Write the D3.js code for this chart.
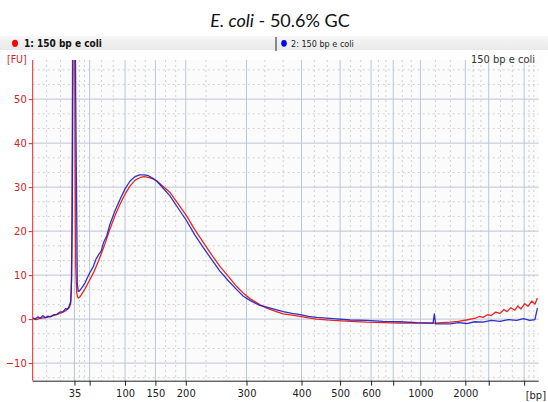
<!DOCTYPE html>
<html><head><meta charset="utf-8">
<script src="https://cdn.jsdelivr.net/npm/d3@7"></script>
<style>
body{margin:0;background:#fff;}
svg{display:block;}
</style></head>
<body>
<svg id="chart" width="548" height="402"></svg>
<script>
// ---- data ----
const title = ["E. coli", " - 50.6% GC"];
const sampleNames = ["1: 150 bp e coli", "2: 150 bp e coli"];
const panelLabel = "150 bp e coli";
// x axis: migration time (s) of ladder ticks and their bp labels ("" = unlabeled)
const tickTimes  = [41.6, 44.0, 49.6, 54.4, 59.2, 68.8, 77.5, 83.6, 88.5, 92.0, 96.3, 103.4, 107.1, 112.7];
const tickLabels = ["35", "", "100", "150", "200", "300", "400", "500", "600", "", "1000", "2000", "", ""];
const xDomain = [35, 115];
const yDomain = [-14, 58.9];
const yTicks = [-10, 0, 10, 20, 30, 40, 50];
// series: [time (s), fluorescence (FU)]
const sample1 = [
 [35.05,0.1],[35.6,-0.1],[36.2,0.2],[36.7,0.3],[37.3,0.4],[37.8,0.6],[38.3,0.8],[38.8,1.0],[39.3,1.3],[39.8,1.6],
 [40.3,2.0],[40.7,2.5],[41.0,3.4],[41.1,6],[41.2,20],[41.3,60],[41.4,95],[41.5,100],[41.6,80],[41.7,40],[41.8,12],
 [41.95,6.0],[42.1,5.0],[42.25,4.8],[42.5,5.1],[42.9,6.0],[43.3,7.0],[43.9,8.6],[44.6,10.5],[45.4,13.2],[46.2,16.2],
 [47.2,20.4],[48.0,23.5],[48.8,26.1],[49.6,28.4],[50.4,30.3],[51.2,31.6],[52.0,32.2],[52.6,32.4],[53.3,32.2],
 [54.0,31.9],[54.6,31.4],[55.6,30.2],[56.7,28.8],[58.0,26.2],[59.35,23.4],[60.6,20.4],[62.0,17.4],[63.3,14.6],
 [64.6,12.0],[66.0,9.6],[67.25,7.4],[68.3,5.9],[69.4,4.6],[70.9,3.3],[72.0,2.5],[73.3,1.8],[74.6,1.2],[76.0,0.9],
 [77.3,0.6],[78.6,0.3],[79.9,0.0],[82.5,-0.3],[85.2,-0.5],[87.8,-0.7],[90.4,-0.8],[93.0,-0.9],[95.7,-0.9],
 [98.5,-0.9],[101.0,-0.7],[102.3,-0.5],[103.6,-0.2],[105.0,0.2],[105.6,0.6],[106.2,0.4],[106.9,1.0],[107.5,0.8],
 [108.2,1.6],[108.9,1.3],[109.5,2.2],[110.0,1.7],[110.6,2.6],[111.2,2.0],[111.7,3.0],[112.2,2.3],[112.8,3.5],
 [113.3,2.9],[113.9,4.1],[114.4,3.4],[114.8,4.8]
];
const sample2 = [
 [35.05,0.3],[35.4,0.0],[35.8,0.5],[36.2,0.2],[36.6,0.8],[37.0,0.3],[37.4,0.7],[37.8,0.5],[38.3,1.0],[38.8,1.1],
 [39.3,1.6],[39.8,1.7],[40.2,2.4],[40.5,2.2],[40.8,3.0],[41.0,4.0],[41.15,9],[41.26,25],[41.4,70],[41.55,100],
 [41.7,75],[41.8,50],[41.95,26],[42.05,8],[42.2,6.3],[42.4,6.4],[42.7,7.0],[43.0,7.6],[43.3,8.3],[43.9,10.2],
 [44.6,12.0],[45.0,13.6],[45.4,14.6],[45.8,15.4],[46.2,17.4],[46.7,18.9],[47.2,21.5],[48.0,24.6],[48.8,27.2],
 [49.6,29.6],[50.4,31.4],[51.2,32.4],[51.9,32.8],[52.6,32.8],[53.3,32.6],[54.0,32.0],[54.6,31.4],[55.6,29.8],
 [56.7,28.0],[58.0,25.2],[59.35,22.3],[60.6,19.2],[62.0,16.2],[63.3,13.5],[64.6,10.9],[66.0,8.6],[67.25,6.7],
 [68.3,5.2],[69.4,4.2],[70.9,3.1],[72.0,2.7],[73.3,2.2],[74.6,1.7],[76.0,1.3],[77.3,1.0],[78.6,0.6],[79.9,0.4],
 [82.5,0.1],[85.2,-0.2],[87.8,-0.3],[90.4,-0.5],[93.0,-0.6],[95.7,-0.8],[98.3,-0.9],[98.5,1.2],[98.7,-1.1],
 [101.0,-1.1],[102.3,-0.8],[103.6,-1.0],[104.9,-0.6],[106.2,-0.7],[107.5,-0.3],[108.9,-0.5],[110.2,-0.1],
 [111.5,-0.3],[112.6,0.1],[113.6,-0.3],[114.4,-0.1],[114.8,2.5]
];
const colors = ["#e8261f", "#1c1cc4"];

// ---- layout ----
const svg = d3.select("#chart");
const L = 32.7, R = 538.7, T = 60, B = 380.7;
const x = d3.scaleLinear().domain(xDomain).range([L, R]);
const y = d3.scaleLinear().domain(yDomain).range([B, T]);
const tickFont = "'DejaVu Sans Condensed', 'Liberation Sans Narrow', 'Liberation Sans', sans-serif";

// title
const tt = svg.append("text").attr("x", 280).attr("y", 27).attr("text-anchor", "middle")
  .attr("font-family", "Lato, sans-serif").attr("font-size", 18).attr("fill", "#111");
tt.append("tspan").attr("font-style", "italic").text(title[0]);
tt.append("tspan").text(title[1]);

// header bar
const hdr = svg.append("g");
const grad = svg.append("defs").append("linearGradient").attr("id", "hg").attr("x1", 0).attr("x2", 0).attr("y1", 0).attr("y2", 1);
grad.append("stop").attr("offset", 0).attr("stop-color", "#f6f6f6");
grad.append("stop").attr("offset", 1).attr("stop-color", "#e9e9e9");
hdr.append("rect").attr("x", 0).attr("y", 36).attr("width", 548).attr("height", 14).attr("fill", "url(#hg)");
hdr.append("line").attr("x1", 276).attr("x2", 276).attr("y1", 37).attr("y2", 51).attr("stroke", "#222").attr("stroke-width", 1);
hdr.append("ellipse").attr("cx", 15).attr("cy", 43.3).attr("rx", 3).attr("ry", 3.6).attr("fill", "#ff0000");
hdr.append("text").attr("x", 24).attr("y", 47).attr("font-family", tickFont).attr("font-size", 10)
  .attr("font-weight", "bold").attr("fill", "#111").text(sampleNames[0]);
hdr.append("ellipse").attr("cx", 284).attr("cy", 43.3).attr("rx", 2.8).attr("ry", 3.4).attr("fill", "#0000ee");
hdr.append("text").attr("x", 291).attr("y", 47).attr("font-family", tickFont).attr("font-size", 9)
  .attr("fill", "#222").text(sampleNames[1]);

// plot background
svg.append("rect").attr("x", L).attr("y", T).attr("width", R - L).attr("height", B - T).attr("fill", "#fbfbfb");

// minor grid
const grid = svg.append("g");
const xBreaks = [xDomain[0], ...tickTimes, xDomain[1]];
const xMinor = [];
for (let i = 0; i < xBreaks.length - 1; i++) {
  const a = xBreaks[i], b = xBreaks[i + 1];
  xMinor.push(a + (b - a) / 3, a + 2 * (b - a) / 3);
}
const yMinor = [];
for (let v = -20; v < 60; v += 10) { yMinor.push(v + 10 / 3, v + 20 / 3); }
grid.selectAll(".xm").data(xMinor).join("line")
  .attr("x1", d => x(d)).attr("x2", d => x(d)).attr("y1", T).attr("y2", B)
  .attr("stroke", "#c8c8c8").attr("stroke-width", 0.8).attr("stroke-dasharray", "2,3");
grid.selectAll(".ym").data(yMinor.filter(v => v > yDomain[0] && v < yDomain[1])).join("line")
  .attr("x1", L).attr("x2", R).attr("y1", d => y(d)).attr("y2", d => y(d))
  .attr("stroke", "#c8c8c8").attr("stroke-width", 0.8).attr("stroke-dasharray", "2,3");
// major grid
grid.selectAll(".xM").data(tickTimes).join("line")
  .attr("x1", d => x(d)).attr("x2", d => x(d)).attr("y1", T).attr("y2", B)
  .attr("stroke", "#bcc6d4").attr("stroke-width", 1);
grid.selectAll(".yM").data(yTicks).join("line")
  .attr("x1", L).attr("x2", R).attr("y1", d => y(d)).attr("y2", d => y(d))
  .attr("stroke", "#bcc6d4").attr("stroke-width", 1);

// panel label
svg.append("text").attr("x", 535).attr("y", 63).attr("text-anchor", "end")
  .attr("font-family", tickFont).attr("font-size", 11).attr("fill", "#333").text(panelLabel);

// traces
svg.append("clipPath").attr("id", "clip").append("rect").attr("x", L).attr("y", T).attr("width", R - L + 1).attr("height", B - T);
const line = d3.line().x(d => x(d[0])).y(d => y(d[1]));
const traces = svg.append("g").attr("clip-path", "url(#clip)");
[sample1, sample2].forEach((s, i) => {
  traces.append("path").datum(s).attr("d", line).attr("fill", "none")
    .attr("stroke", colors[i]).attr("stroke-width", 1.3).attr("stroke-opacity", i === 1 ? 0.9 : 1)
    .attr("stroke-linejoin", "round");
});

// x axis
const xAxis = d3.axisBottom(x).tickValues(tickTimes).tickSize(5).tickPadding(4)
  .tickFormat((d, i) => tickLabels[i]);
const gx = svg.append("g").attr("transform", `translate(0,${B})`).call(xAxis);
gx.select(".domain").attr("d", `M${L},0.5H${R}`).attr("stroke", "#222");
gx.selectAll(".tick line").attr("stroke", "#222");
gx.selectAll(".tick text").attr("font-family", tickFont).attr("font-size", 11).attr("fill", "#222");
svg.append("text").attr("x", 546).attr("y", 399).attr("text-anchor", "end")
  .attr("font-family", tickFont).attr("font-size", 11).attr("fill", "#222").text("[bp]");

// y axis
const yAxis = d3.axisLeft(y).tickValues(yTicks).tickSize(4).tickPadding(2);
const gy = svg.append("g").attr("transform", `translate(${L},0)`).call(yAxis);
gy.select(".domain").attr("d", `M0,${T}V${B}`).attr("stroke", "#e8261f");
gy.selectAll(".tick line").attr("stroke", "#e8261f");
gy.selectAll(".tick text").attr("font-family", tickFont).attr("font-size", 11).attr("fill", "#d42020");
svg.append("text").attr("x", 7).attr("y", 63).attr("font-family", tickFont).attr("font-size", 10.5)
  .attr("fill", "#d42020").text("[FU]");
</script>
</body></html>
